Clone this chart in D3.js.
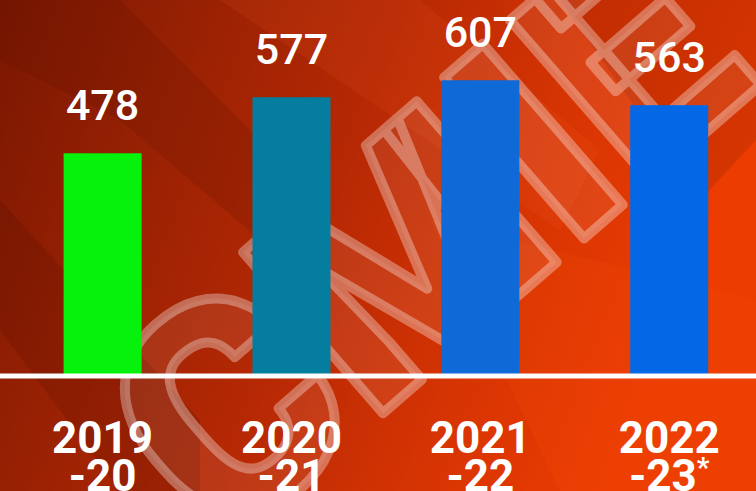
<!DOCTYPE html>
<html>
<head>
<meta charset="utf-8">
<script src="https://cdn.jsdelivr.net/npm/d3@7"></script>
<style>
html,body{margin:0;padding:0;background:#9a2203;}
svg{display:block;}
</style>
</head>
<body>
<svg id="chart" width="756" height="491"></svg>
<script>
const categories = ["2019-20", "2020-21", "2021-22", "2022-23*"];
const labelLine1 = ["2019", "2020", "2021", "2022"];
const labelLine2 = ["-20", "-21", "-22", "-23"];
const labelMark = ["", "", "", "*"];
const values = [478, 577, 607, 563];
const barColors = ["#06f20c", "#057d9f", "#0f69d6", "#0468e6"];

const W = 756, H = 491;
const svg = d3.select("#chart");
const defs = svg.append("defs");

// background gradient
const bg = defs.append("linearGradient").attr("id", "bg").attr("x1", "0").attr("y1", "0").attr("x2", "1").attr("y2", "0.25");
[["0%", "#7a1702"], ["25%", "#982103"], ["50%", "#b52804"], ["75%", "#d63403"], ["100%", "#ec3c02"]]
  .forEach(([o, c]) => bg.append("stop").attr("offset", o).attr("stop-color", c));
svg.append("rect").attr("width", W).attr("height", H).attr("fill", "url(#bg)");

// diagonal bands
const bands = svg.append("g");
bands.append("polygon").attr("points", "0,60 0,0 120,0 330,210 330,300 120,120").attr("fill", "#5a1000").attr("opacity", 0.18);
bands.append("polygon").attr("points", "0,330 0,200 200,420 200,491 120,491").attr("fill", "#4a0c00").attr("opacity", 0.18);
bands.append("polygon").attr("points", "560,0 756,0 756,140 700,200").attr("fill", "#5a1000").attr("opacity", 0.15);
bands.append("polygon").attr("points", "430,220 756,300 756,491 560,491").attr("fill", "#ff5a10").attr("opacity", 0.12);
bands.append("polygon").attr("points", "220,0 420,0 600,150 560,230").attr("fill", "#ff6a30").attr("opacity", 0.10);

// watermark
svg.append("text")
  .attr("transform", "translate(426,240) rotate(-41)")
  .attr("text-anchor", "middle")
  .attr("dominant-baseline", "central")
  .attr("font-family", "Roboto, sans-serif")
  .attr("font-weight", 900)
  .attr("font-size", 300)
  .attr("fill", "rgba(255,255,255,0.08)")
  .attr("stroke", "rgba(255,255,255,0.33)")
  .attr("stroke-width", 10)
  .attr("stroke-linejoin", "round")
  .text("CMIE");

const baseY = 376;
const x = d3.scaleBand().domain(categories).range([63.6, 708.2]).paddingInner(0.587).paddingOuter(0);
const y = d3.scaleLinear().domain([84.5, 607]).range([baseY, baseY - 0.566 * (607 - 84.5)]);

const g = svg.append("g");
g.selectAll("rect.bar").data(values).join("rect")
  .attr("class", "bar")
  .attr("x", (d, i) => x(categories[i]))
  .attr("width", x.bandwidth())
  .attr("y", d => y(d))
  .attr("height", d => baseY - y(d))
  .attr("fill", (d, i) => barColors[i]);

// baseline
g.append("line").attr("x1", 0).attr("x2", W).attr("y1", baseY).attr("y2", baseY)
  .attr("stroke", "#ffffff").attr("stroke-width", 5);

// value labels
g.selectAll("text.val").data(values).join("text")
  .attr("class", "val")
  .attr("x", (d, i) => x(categories[i]) + x.bandwidth() / 2)
  .attr("y", d => y(d) - 33)
  .attr("text-anchor", "middle")
  .attr("font-family", "Roboto, sans-serif")
  .attr("font-weight", 500)
  .attr("font-size", 43)
  .attr("fill", "#ffffff")
  .text(d => d);

// category labels
const lab = g.selectAll("text.cat").data(categories).join("text")
  .attr("class", "cat")
  .attr("text-anchor", "middle")
  .attr("font-family", "Roboto, sans-serif")
  .attr("font-weight", 700)
  .attr("font-size", 44)
  .attr("fill", "#ffffff");
lab.append("tspan")
  .attr("x", d => x(d) + x.bandwidth() / 2)
  .attr("y", 453)
  .text((d, i) => labelLine1[i]);
lab.append("tspan")
  .attr("x", d => x(d) + x.bandwidth() / 2)
  .attr("y", 491)
  .text((d, i) => labelLine2[i])
  .append("tspan")
  .attr("font-size", 28)
  .attr("dy", -14)
  .text((d, i) => labelMark[i]);
</script>
</body>
</html>
